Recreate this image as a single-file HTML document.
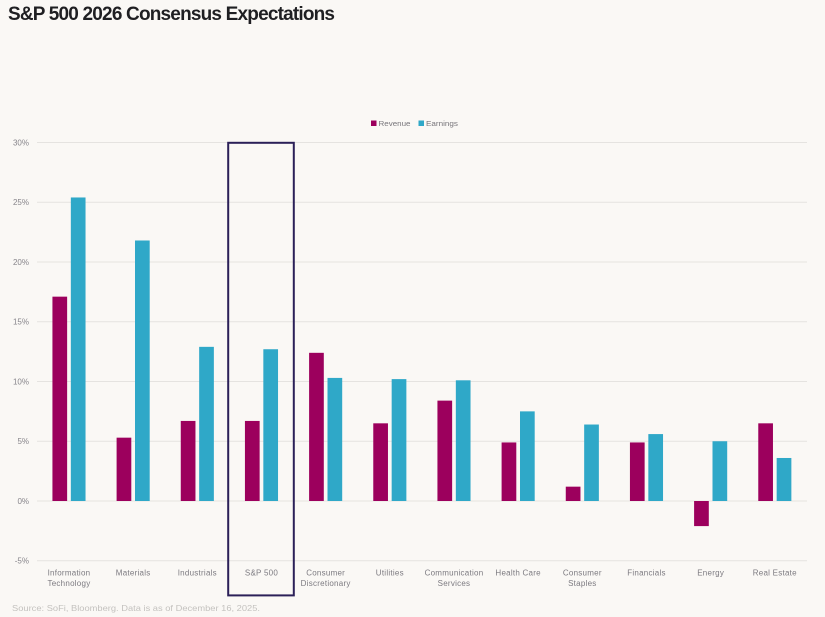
<!DOCTYPE html>
<html lang="en">
<head>
<meta charset="utf-8">
<title>S&amp;P 500 2026 Consensus Expectations</title>
<style>
html,body{margin:0;padding:0;background:#faf8f5;}
body{width:825px;height:617px;overflow:hidden;}
svg{display:block;font-family:"Liberation Sans",sans-serif;}
</style>
</head>
<body>
<svg id="chart" width="825" height="617" viewBox="0 0 825 617" xmlns="http://www.w3.org/2000/svg">
  <rect x="0" y="0" width="825" height="617" fill="#faf8f5"/>
  <text x="8" y="20" font-size="19" font-weight="700" fill="#1f1f22" textLength="327" lengthAdjust="spacing">S&amp;P 500 2026 Consensus Expectations</text>
  <g>
    <g>
      <rect x="371" y="120.500" width="5.500" height="5.500" fill="#9c005d"/>
      <text x="378.500" y="126" font-size="7.600" fill="#77757a" textLength="32" lengthAdjust="spacingAndGlyphs">Revenue</text>
    </g>
    <g>
      <rect x="418.500" y="120.500" width="5.500" height="5.500" fill="#2fa8c8"/>
      <text x="426" y="126" font-size="7.600" fill="#77757a" textLength="32" lengthAdjust="spacingAndGlyphs">Earnings</text>
    </g>
  </g>
  <g id="grid"></g>
  <g id="yticks"></g>
  <g id="bars"></g>
  <g id="xticks"></g>
  <rect x="228.200" y="142.800" width="65.600" height="452.600" fill="none" stroke="#2b2058" stroke-width="2"/>
  <text x="12" y="611" font-size="8.600" fill="#c4c2bf" textLength="248" lengthAdjust="spacingAndGlyphs">Source: SoFi, Bloomberg. Data is as of December 16, 2025.</text>
</svg>
<script>
const categories = [
  ["Information", "Technology"],
  ["Materials"],
  ["Industrials"],
  ["S&P 500"],
  ["Consumer", "Discretionary"],
  ["Utilities"],
  ["Communication", "Services"],
  ["Health Care"],
  ["Consumer", "Staples"],
  ["Financials"],
  ["Energy"],
  ["Real Estate"]
];
const revenue = [17.1, 5.3, 6.7, 6.7, 12.4, 6.5, 8.4, 4.9, 1.2, 4.9, -2.1, 6.5];
const earnings = [25.4, 21.8, 12.9, 12.7, 10.3, 10.2, 10.1, 7.5, 6.4, 5.6, 5.0, 3.6];
const yTicks = [30, 25, 20, 15, 10, 5, 0, -5];

const NS = "http://www.w3.org/2000/svg";
const plotLeft = 37, plotRight = 807;
const band = (plotRight - plotLeft) / categories.length;
const barW = 14.7, barGap = 3.7;
function yScale(v) { return 501 - v * 11.95; }
function xCenter(i) { return plotLeft + band * (i + 0.5) - 0.1; }
function make(tag, attrs, parent) {
  const el = document.createElementNS(NS, tag);
  for (const k in attrs) el.setAttribute(k, attrs[k]);
  parent.appendChild(el);
  return el;
}
const grid = document.getElementById("grid");
const yt = document.getElementById("yticks");
yTicks.forEach(function (t) {
  const y = yScale(t);
  const line = make("line", {x1: plotLeft, x2: plotRight, y1: y, y2: y, stroke: "#e5e3e0", "stroke-width": 1}, grid);
  
  
  const label = make("text", {x: 29, y: y + 2.8, "text-anchor": "end", "font-size": 8, fill: "#86848a"}, yt);
  
  
  label.textContent = t + "%";
});
const bars = document.getElementById("bars");
function drawBar(v, x, color) {
  const y0 = yScale(0), y1 = yScale(v);
  const r = make("rect", {x: x, y: Math.min(y0, y1), width: barW, height: Math.abs(y1 - y0), fill: color}, bars);
  return r;
}
categories.forEach(function (c, i) {
  const cx = xCenter(i);
  const r1 = drawBar(revenue[i], cx - barGap / 2 - barW, "#9c005d");
  
  
  const r2 = drawBar(earnings[i], cx + barGap / 2, "#2fa8c8");
  
  
});
const xt = document.getElementById("xticks");
categories.forEach(function (c, i) {
  c.forEach(function (line, j) {
    const t = make("text", {x: xCenter(i), y: 575.5 + j * 10.6, "text-anchor": "middle", "font-size": 8, "letter-spacing": 0.25, fill: "#7c7a80"}, xt);
    
    
    t.textContent = line;
  });
});
</script>
</body>
</html>
